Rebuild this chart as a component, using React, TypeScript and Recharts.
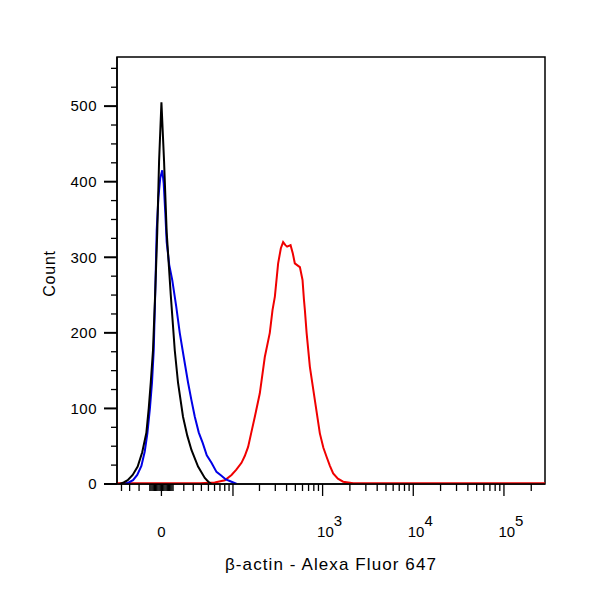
import React from 'react';
import { ComposedChart, Line, XAxis, YAxis, ReferenceArea } from 'recharts';

// x values are positions on the biexponential display axis (0 = zero, ~1 unit per decade up high)
const controlPos = [-0.46, -0.416, -0.372, -0.317, -0.262, -0.212, -0.166, -0.14, -0.118, -0.093, -0.068, -0.046, -0.026, 0, 0.029, 0.058, 0.103, 0.147, 0.183, 0.238, 0.285, 0.331, 0.404, 0.478, 0.517, 0.552];
const controlCount = [0, 2, 5, 12, 23, 42, 68, 100, 134, 177, 255, 333, 427, 505, 427, 333, 250, 177, 134, 89, 64, 45, 23, 8, 3, 0];

const isotypePos = [-0.405, -0.361, -0.313, -0.267, -0.221, -0.184, -0.155, -0.127, -0.104, -0.085, -0.068, -0.052, -0.033, -0.013, 0.009, 0.025, 0.042, 0.058, 0.086, 0.119, 0.163, 0.202, 0.246, 0.294, 0.329, 0.368, 0.412, 0.456, 0.5, 0.552, 0.607, 0.662, 0.71, 0.773, 0.831];
const isotypeCount = [0, 2, 5, 12, 24, 43, 67, 100, 134, 177, 255, 336, 380, 405, 415, 398, 360, 320, 290, 270, 235, 200, 168, 134, 112, 89, 68, 54, 38, 28, 16, 11, 6, 3, 0];

const actinPos = [-0.49, -0.24, 0.092, 0.423, 0.588, 0.699, 0.773, 0.826, 0.883, 0.919, 0.956, 0.991, 1.03, 1.085, 1.14, 1.195, 1.225, 1.251, 1.287, 1.317, 1.342, 1.367, 1.386, 1.424, 1.449, 1.471, 1.504, 1.527, 1.556, 1.571, 1.582, 1.601, 1.637, 1.692, 1.747, 1.786, 1.821, 1.858, 1.894, 1.946, 2.004, 2.115, 2.63, 3.734, 4.23];
const actinCount = [1, 1, 1, 1, 2, 5, 12, 19, 28, 37, 49, 68, 89, 120, 168, 200, 230, 248, 292, 312, 320, 316, 314, 316, 305, 292, 289, 287, 270, 245, 230, 200, 155, 111, 67, 48, 36, 24, 14, 7, 3, 1, 1, 1, 1];

const xLabelValues = [0, 1e3, 1e4, 1e5];
const xLabelExps = ['', '3', '4', '5'];
const yLabelValues = [0, 100, 200, 300, 400, 500];

const X_MIN = -0.49;
const X_MAX = 4.23;
const Y_MAX = 565;
const FONT = '"Liberation Sans", Arial, sans-serif';

const toDisplay = (v: number) => Math.asinh(v / 33.4) / Math.LN10;

const zip = (xs: number[], ys: number[]) => xs.map((x, i) => ({ x, count: ys[i] }));
const controlData = zip(controlPos, controlCount);
const isotypeData = zip(isotypePos, isotypeCount);
const actinData = zip(actinPos, actinCount);

// tick marks on the x axis: raw values, long ones at 0 and at powers of ten
type XTickInfo = { pos: number; long: boolean; label?: string; exp?: string };
const xTickInfo: XTickInfo[] = [];
for (let d = 1; d <= 9; d++) {
  xTickInfo.push({ pos: toDisplay(d), long: false }, { pos: toDisplay(-d), long: false });
  xTickInfo.push({ pos: toDisplay(d * 10), long: false }, { pos: toDisplay(-d * 10), long: false });
}
[100, 1e3, 1e4, 1e5].forEach((p) => {
  for (let d = 2; d <= 9; d++) xTickInfo.push({ pos: toDisplay(d * p), long: false });
});
[0, 100, 1e3, 1e4, 1e5].forEach((v) => {
  const li = xLabelValues.indexOf(v);
  xTickInfo.push({ pos: toDisplay(v), long: true, label: li >= 0 ? (v === 0 ? '0' : '10') : undefined, exp: li >= 0 ? xLabelExps[li] : undefined });
});
const xTicks = xTickInfo.filter((t) => t.pos >= X_MIN && t.pos <= X_MAX);

const yTicks: number[] = [];
for (let v = 0; v <= 550; v += 25) yTicks.push(v);

const XTick = (props: any) => {
  const { x, y, payload } = props;
  const t = xTicks.find((k) => Math.abs(k.pos - payload.value) < 1e-9);
  if (!t) return null;
  return (
    <g>
      <line x1={x} y1={y} x2={x} y2={y + (t.long ? 12 : 7)} stroke="#000" strokeWidth={1.3} />
      {t.label && (
        <text x={x + (t.exp ? 7 : 0)} y={y + 53} textAnchor="middle" fontFamily={FONT} fontSize={15} fill="#000">
          {t.label}
          {t.exp && <tspan dy={-11}>{t.exp}</tspan>}
        </text>
      )}
    </g>
  );
};

const YTick = (props: any) => {
  const { x, y, payload } = props;
  const major = payload.value % 100 === 0;
  return (
    <g>
      <line x1={x} y1={y} x2={x - (major ? 13 : 6)} y2={y} stroke="#000" strokeWidth={major ? 2 : 1.3} />
      {major && yLabelValues.includes(payload.value) && (
        <text x={x - 20} y={y} dy="0.35em" textAnchor="end" fontFamily={FONT} fontSize={15} letterSpacing={0.5} fill="#000">
          {payload.value}
        </text>
      )}
    </g>
  );
};

const XLabel = ({ viewBox }: any) => (
  <text x={viewBox.x + viewBox.width / 2} y={viewBox.y + 86} textAnchor="middle" fontFamily={FONT} fontSize={17} letterSpacing={1.1} fill="#000">
    β-actin - Alexa Fluor 647
  </text>
);

const YLabel = ({ viewBox }: any) => {
  const cx = 55;
  const cy = viewBox.y + viewBox.height / 2 + 3;
  return (
    <text x={cx} y={cy} transform={`rotate(-90 ${cx} ${cy})`} textAnchor="middle" fontFamily={FONT} fontSize={16} letterSpacing={0.8} fill="#000">
      Count
    </text>
  );
};

export default function App() {
  return (
    <div style={{ position: 'absolute', left: 0, top: 0, width: 600, height: 600, background: '#fff' }}>
      <ComposedChart width={600} height={600} margin={{ top: 57, right: 55, bottom: 0, left: 0 }}>
        <XAxis
          type="number"
          dataKey="x"
          domain={[X_MIN, X_MAX]}
          allowDataOverflow
          ticks={xTicks.map((t) => t.pos)}
          interval={0}
          tick={<XTick />}
          tickLine={false}
          tickSize={0}
          tickMargin={0}
          height={116}
          axisLine={{ stroke: '#000', strokeWidth: 1.5 }}
          label={{ content: <XLabel /> }}
        />
        <YAxis
          type="number"
          domain={[0, Y_MAX]}
          allowDataOverflow
          ticks={yTicks}
          interval={0}
          tick={<YTick />}
          tickLine={false}
          tickSize={0}
          tickMargin={0}
          width={117}
          axisLine={{ stroke: '#000', strokeWidth: 1.5 }}
          label={{ content: <YLabel /> }}
        />
        <ReferenceArea x1={X_MIN} x2={X_MAX} y1={0} y2={Y_MAX} fill="none" stroke="#000" strokeWidth={1.5} fillOpacity={0} />
        <Line data={actinData} dataKey="count" type="linear" stroke="#f00000" strokeWidth={2} dot={false} isAnimationActive={false} />
        <Line data={isotypeData} dataKey="count" type="linear" stroke="#0000e6" strokeWidth={2} dot={false} isAnimationActive={false} />
        <Line data={controlData} dataKey="count" type="linear" stroke="#000" strokeWidth={2} dot={false} isAnimationActive={false} />
      </ComposedChart>
    </div>
  );
}
